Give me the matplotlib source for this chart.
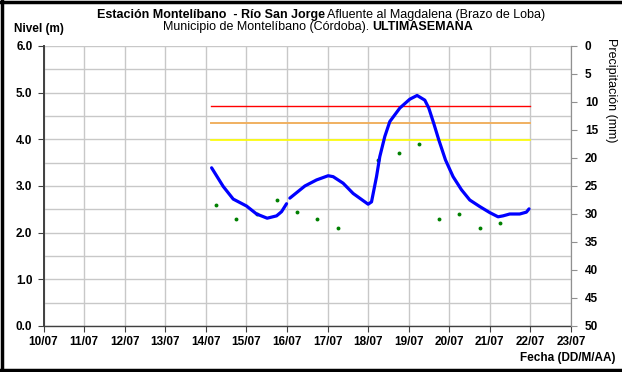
import numpy as np
import matplotlib
matplotlib.use("Agg")
import matplotlib.pyplot as plt
from matplotlib.lines import Line2D

plt.rcParams['font.family'] = ['Liberation Sans', 'DejaVu Sans']

# days counted from 10/07 00:00
day_labels = ['10/07', '11/07', '12/07', '13/07', '14/07', '15/07', '16/07',
              '17/07', '18/07', '19/07', '20/07', '21/07', '22/07', '23/07']

level_t = [4.143, 4.429, 4.675, 5.005, 5.251, 5.512, 5.744, 5.867, 5.990,
           6.030,
           6.071, 6.441, 6.729, 7.015, 7.138, 7.384, 7.631, 8.000, 8.084,
           8.207, 8.288, 8.411, 8.534, 8.781, 9.027, 9.207, 9.397, 9.495,
           9.618, 9.741, 9.906, 10.094, 10.300, 10.505, 10.751, 10.998,
           11.202, 11.325, 11.490, 11.736, 11.901, 11.966]
level_m = [3.39, 2.99, 2.72, 2.57, 2.40, 2.31, 2.36, 2.45, 2.62,
           np.nan,
           2.74, 3.00, 3.13, 3.22, 3.20, 3.06, 2.84, 2.61, 2.66,
           3.20, 3.63, 4.06, 4.38, 4.67, 4.86, 4.94, 4.84, 4.67,
           4.34, 3.99, 3.56, 3.20, 2.92, 2.70, 2.56, 2.43,
           2.34, 2.36, 2.40, 2.40, 2.44, 2.51]

read_t = [4.25, 4.75, 5.25, 5.75, 6.25, 6.75, 7.25, 8.25, 8.75, 9.25,
          9.75, 10.25, 10.75, 11.25]
read_m = [2.6, 2.3, 2.4, 2.7, 2.45, 2.3, 2.1, 3.55, 3.7, 3.9,
          2.3, 2.4, 2.1, 2.2]

thr_t = [4.14, 12.0]
thr_red = 4.71
thr_orange = 4.34
thr_yellow = 3.98

W, H = 622, 372
fig = plt.figure(figsize=(W / 100, H / 100), dpi=100)
ax = fig.add_axes([43.5 / W, (H - 326) / H, (571 - 43.5) / W, 280 / H])

ax.set_xlim(0, 13)
ax.set_ylim(0, 6)
ax.set_xticks(range(14))
ax.set_xticklabels(day_labels)
ax.set_yticks(np.arange(0, 6.1, 1))
ax.set_yticklabels(['%.1f' % v for v in np.arange(0, 6.1, 1)])
ax.set_yticks(np.arange(0, 6.1, 0.5), minor=True)
ax.tick_params(axis='y', which='minor', length=0)
ax.grid(True, which='both', color='#c8c8c8', lw=1.0)
ax.set_axisbelow(True)

ax.spines['top'].set_visible(False)
ax.spines['left'].set_color('#404040')
ax.spines['left'].set_linewidth(1.4)
ax.spines['bottom'].set_color('#404040')
ax.spines['bottom'].set_linewidth(1.0)
ax.spines['right'].set_color('#909090')
ax.tick_params(axis='both', which='major', labelsize=8.5, length=4,
               color='#404040', pad=4)
ax.tick_params(axis='x', pad=3)
for lbl in ax.get_xticklabels() + ax.get_yticklabels():
    lbl.set_fontweight('bold')

ax.plot(thr_t, [thr_red] * 2, color='#ff0000', lw=1.0)
ax.plot(thr_t, [thr_orange] * 2, color='#f0b060', lw=1.4)
ax.plot(thr_t, [thr_yellow] * 2, color='#ffff00', lw=1.2)
ax.plot(read_t, read_m, 'o', color='#008000', ms=2.8, mec='none')
ax.plot(level_t, level_m, color='#0000ff', lw=2.3, solid_capstyle='round')

ax2 = ax.twinx()
ax2.set_ylim(50, 0)
ax2.set_yticks(range(0, 51, 5))
ax2.tick_params(axis='y', labelsize=8.5, length=4, color='#909090', pad=6)
for lbl in ax2.get_yticklabels():
    lbl.set_fontweight('bold')
for s in ['top', 'left', 'bottom']:
    ax2.spines[s].set_visible(False)
ax2.spines['right'].set_color('#909090')

def px(x, y):
    return x / W, 1 - y / H

fig.text(*px(325, 15), 'Estación Montelíbano  - Río San Jorge', ha='right',
         va='center', fontsize=9, fontweight='bold')
fig.text(*px(327, 15), 'Afluente al Magdalena (Brazo de Loba)', ha='left',
         va='center', fontsize=9)
fig.text(*px(369, 27), 'Municipio de Montelíbano (Córdoba).', ha='right',
         va='center', fontsize=9)
fig.text(*px(372, 27), 'ULTIMASEMANA', ha='left', va='center',
         fontsize=9, fontweight='bold')
fig.text(*px(14, 29), 'Nivel (m)', ha='left', va='center', fontsize=8.5,
         fontweight='bold')
fig.text(*px(615, 358), 'Fecha (DD/M/AA)', ha='right', va='center',
         fontsize=8.5, fontweight='bold')
fig.text(*px(611, 38), 'Precipitación (mm)', ha='center', va='top',
         rotation=270, fontsize=9)

# thick frame around the figure
fig.add_artist(Line2D([1.5 / W, 1.5 / W], [0, 1], color='black', lw=2.5,
                      transform=fig.transFigure))
fig.add_artist(Line2D([0, 1], [1 - 1.5 / H, 1 - 1.5 / H], color='black',
                      lw=2.5, transform=fig.transFigure))
fig.add_artist(Line2D([0, 1], [2.5 / H, 2.5 / H], color='black', lw=2.5,
                      transform=fig.transFigure))

fig.savefig('out.png', dpi=100)
